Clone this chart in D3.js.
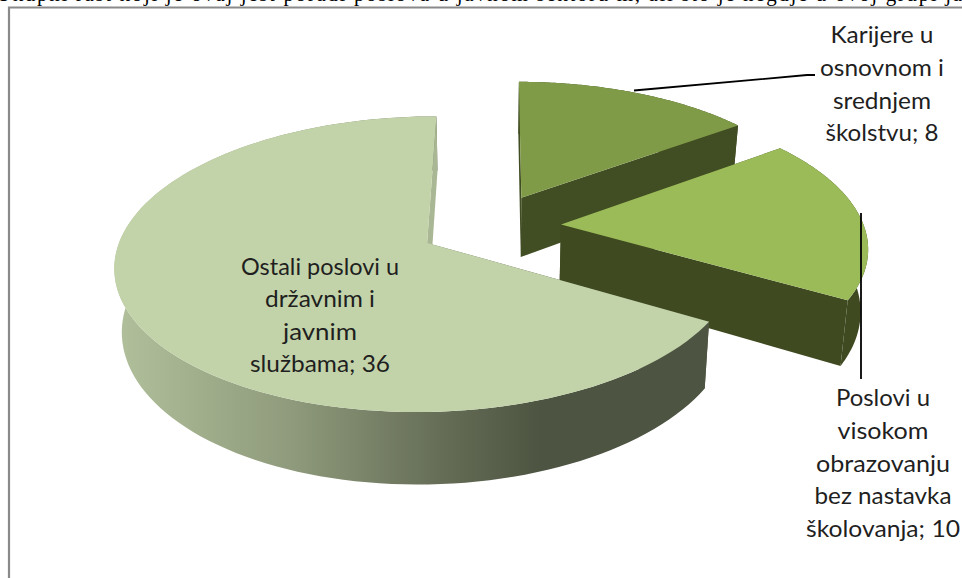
<!DOCTYPE html>
<html><head><meta charset="utf-8">
<script src="https://cdn.jsdelivr.net/npm/d3@7"></script>
<style>html,body{margin:0;padding:0;background:#fff;overflow:hidden}svg{display:block}</style>
</head><body><svg id="c" width="962" height="578"></svg>
<script>
const categories = ["Karijere u osnovnom i srednjem školstvu","Poslovi u visokom obrazovanju bez nastavka školovanja","Ostali poslovi u državnim i javnim službama"];
const values = [8,10,36];
const labelLines = [["Karijere u","osnovnom i","srednjem","školstvu; 8"],["Poslovi u","visokom","obrazovanju","bez nastavka","školovanja; 10"],["Ostali poslovi u","državnim i","javnim","službama; 36"]];
const labelWidths = [[103,124,98,113],[94,91,134,137,154],[158,110,74,140]];
const topColors = ["#7F9B48","#9BBB59","#C3D3A9"];
const sideColors = ["#414D23","#3F4A21","url(#rim)"];
const endWallColors = ["#414D23","#3F4A21","#AAB794"];
const clippedLine = "Ukupni rast koji je ovaj jest poradi poslova u javnom sektoru m, ali što je negdje u ovoj grupi ja";

const svg = d3.select("#c");
const rot = 0.3*Math.PI/180, explode = 0.235, persp = 0.142, depth = 61, bottomShrink = 0.98;
const cx = 490, cy = 226.3, kx = 303, ky = 140;
const xs = d3.scaleLinear().domain([-1,1]).range([cx-kx,cx+kx]);
const ys = d3.scaleLinear().domain([-1,1]).range([cy-ky,cy+ky]);
const project = (u,v,low) => {
  const den = 1-persp*v, x = xs(u/den), y = ys(v/den);
  return low ? [cx+(x-cx)*bottomShrink, y+depth/den] : [x,y];
};
const line = d3.line();

const defs = svg.append("defs");
const g = defs.append("linearGradient").attr("id","rim").attr("gradientUnits","userSpaceOnUse")
  .attr("x1",111).attr("x2",707).attr("y1",0).attr("y2",0);
[[0,"#B2C19C"],[0.3,"#8F9B7C"],[0.55,"#666E57"],[0.72,"#4D5441"],[1,"#4D5441"]]
  .forEach(([o,c])=>g.append("stop").attr("offset",o).attr("stop-color",c));

// frame and the clipped line of body text above it
svg.append("text").text(clippedLine).attr("x",-4).attr("y",1)
  .attr("font-family","Liberation Serif").attr("font-size",21).attr("fill","#000")
  .attr("textLength",966).attr("lengthAdjust","spacing");
svg.append("path").attr("d","M9,578V7.5H962").attr("fill","none").attr("stroke","#8a8a8a").attr("stroke-width",2.2);

const arcs = d3.pie().sort(null).startAngle(rot).endAngle(rot+2*Math.PI)(values);
const slices = svg.append("g").selectAll("g").data(arcs).join("g");
slices.each(function(d,i){
  const s = d3.select(this), mid = (d.startAngle+d.endAngle)/2;
  const ou = explode*Math.sin(mid), ov = -explode*Math.cos(mid);
  const angles = d3.range(0,121).map(k=>d.startAngle+(d.endAngle-d.startAngle)*k/120);
  const rimPt = (a,low)=>project(ou+Math.sin(a),ov-Math.cos(a),low);
  const apexT = project(ou,ov,false), apexB = project(ou,ov,true);
  const top = angles.map(a=>rimPt(a,false)), bot = angles.map(a=>rimPt(a,true));
  const side = sideColors[i];
  s.append("path").attr("d",line(top.concat(bot.slice().reverse()))+"Z").attr("fill",side);
  [top[0],top[120]].forEach((p,k)=>{
    const q = k?bot[120]:bot[0];
    const wall = k?endWallColors[i]:side;
    s.append("path").attr("d",line([apexT,p,q,apexB])+"Z").attr("fill",wall);
  });
  s.append("path").attr("d",line([apexT,...top])+"Z").attr("fill",topColors[i]);
});

// leader lines
svg.append("path").attr("d",line([[634,90.5],[807,75],[815,75]])).attr("fill","none").attr("stroke","#000").attr("stroke-width",1.8);
svg.append("path").attr("d",line([[861,213],[861,379]])).attr("fill","none").attr("stroke","#000").attr("stroke-width",1.8);

// data labels
const labelAnchors = [{x:882,y:43,dy:32.8},{x:883,y:406,dy:32.8},{x:320,y:274.5,dy:32.5}];
labelLines.forEach((lines,i)=>{
  const a = labelAnchors[i];
  svg.append("g").selectAll("text").data(lines).join("text")
    .text(t=>t).attr("x",a.x).attr("y",(t,k)=>a.y+k*a.dy)
    .attr("text-anchor","middle").attr("font-family","Lato").attr("font-size",24).attr("fill","#1f1f1f")
    .attr("textLength",(t,k)=>labelWidths[i][k]).attr("lengthAdjust","spacingAndGlyphs");
});
</script></body></html>
